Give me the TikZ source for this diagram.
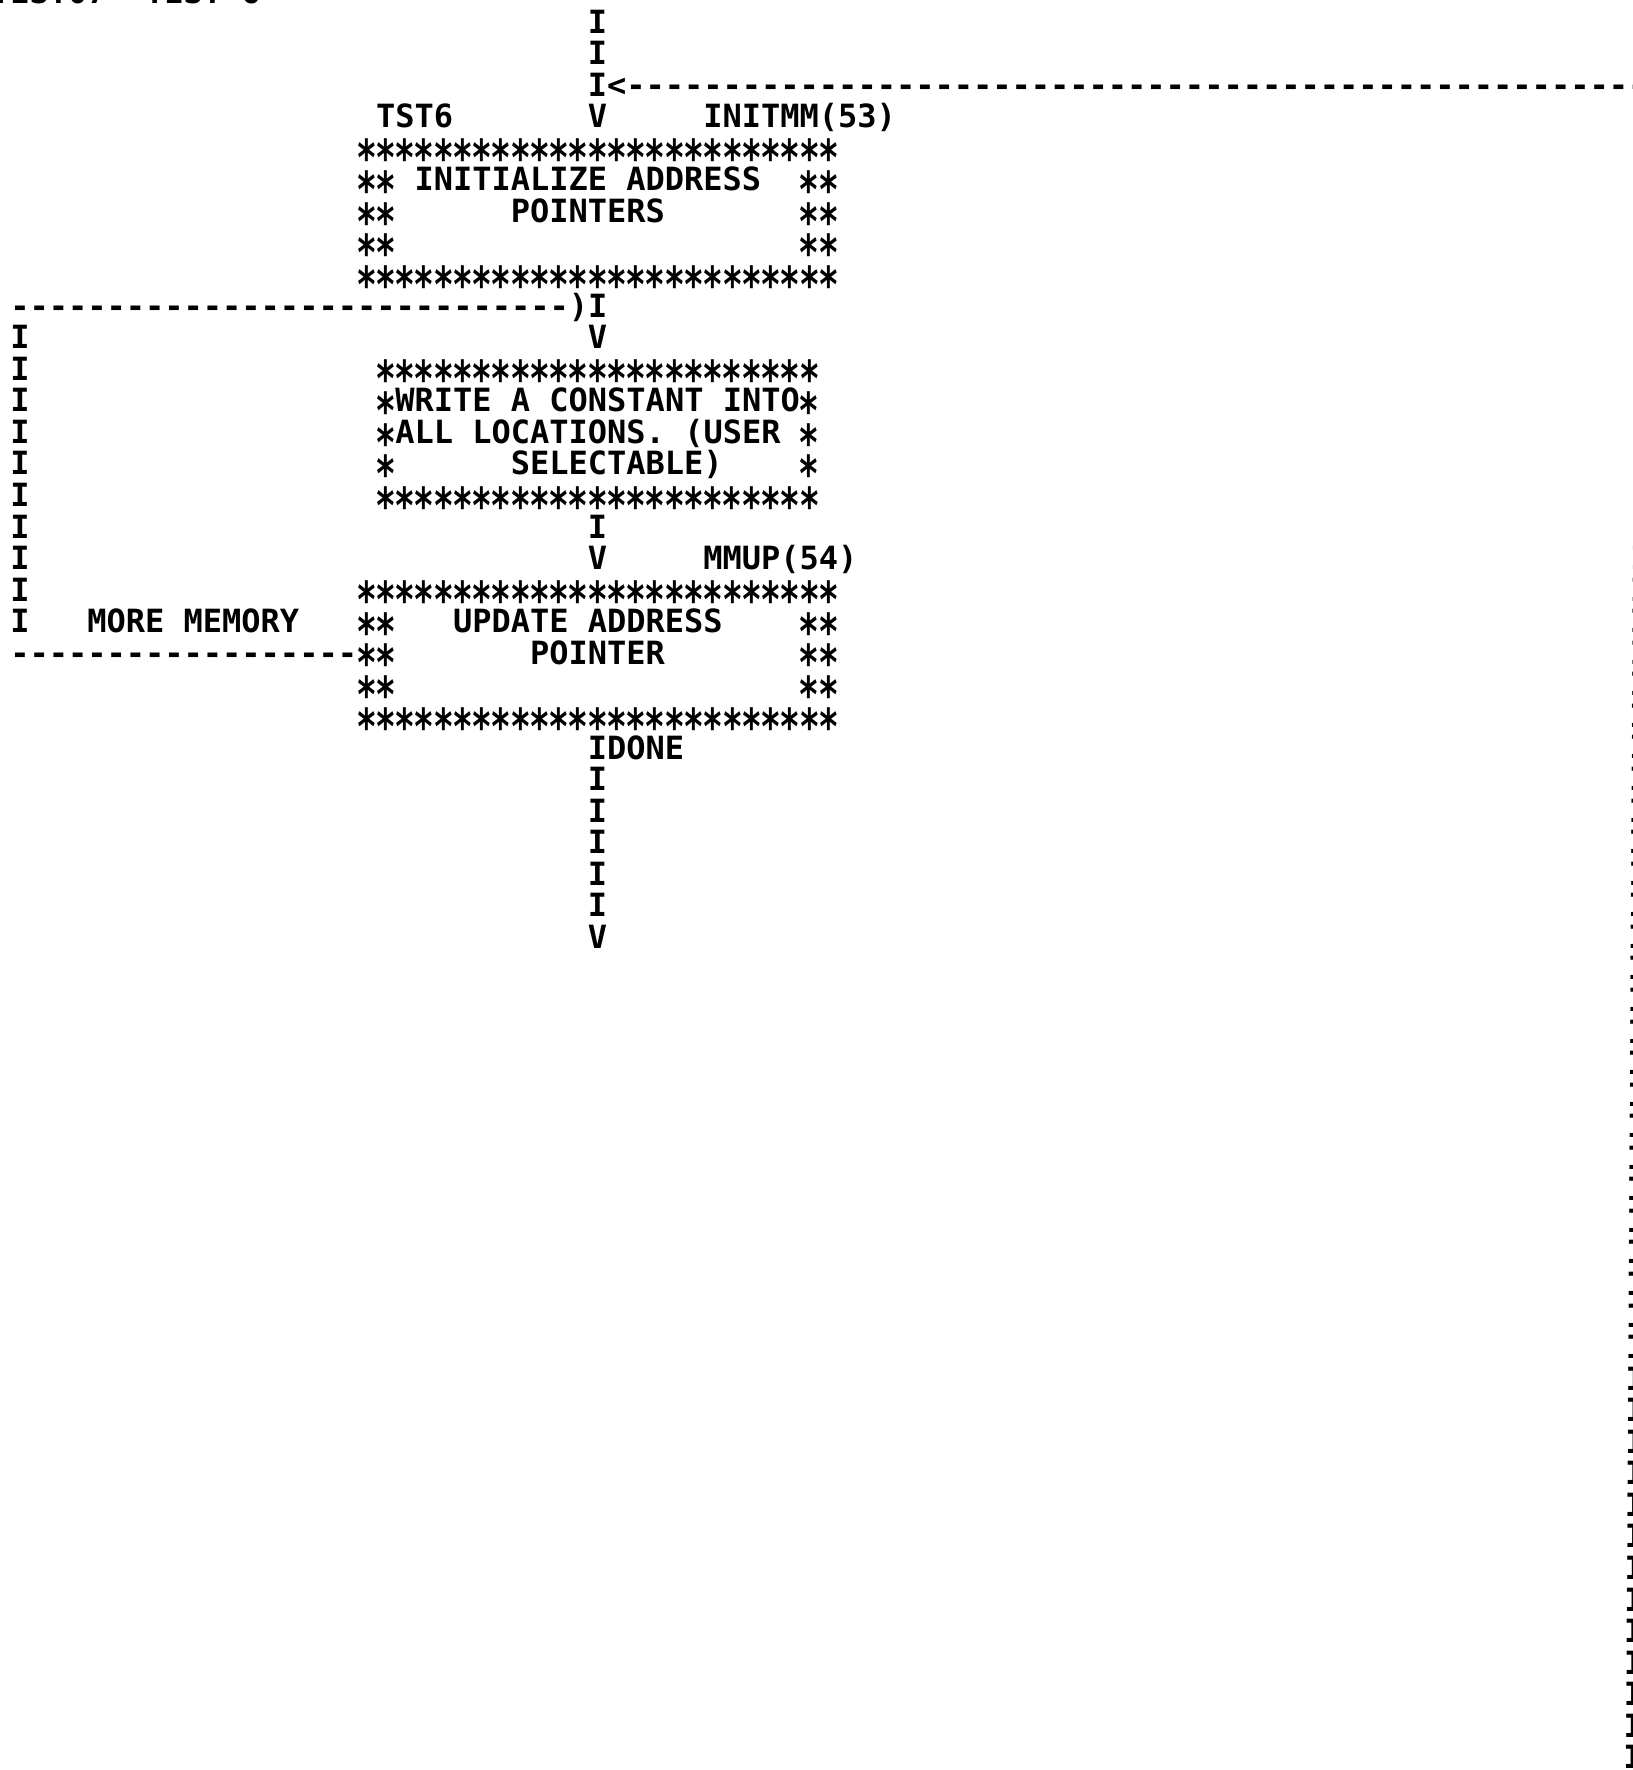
\documentclass[tikz,border=0pt]{standalone}
\usepackage{fontspec}
\usepackage{tikz}
\newfontfamily\plotfont{DejaVu Sans Mono}

% one asterisk of the plotter, one character cell wide
\newcommand{\sk}{\makebox[0.602em]{\smash{\raisebox{-0.52em}{\scalebox{1.08}[1.55]{*}}}}}
\newcommand{\skrow}[1]{\foreach \n in {1,...,#1}{\sk}}

\begin{document}
\begin{tikzpicture}[x=0.5pt,y=0.5pt,yscale=-1,xscale=1,
  ch/.style={anchor=base west,inner sep=0pt,font=\plotfont\fontsize{16pt}{16pt}\selectfont\bfseries\frenchspacing}]
%set diagram left start at 0, and has height of 1770
\useasboundingbox (0,0) rectangle (1632,1770);

%Text Node: page head
\node[ch] (head) at (-9.4,4) {TEST07};
\node[ch] (headb) at (144.6,4) {TEST 6};

%Text Node: entry
\node[ch] (in0) at (587.4,33.1) {I};
\node[ch] (in1) at (587.4,64.7) {I};
\node[ch] (back) at (587.4,96.2) {I<-----------------------------------------------------};
\node[ch] (tst6) at (375.6,127.8) {TST6};
\node[ch] (v0) at (587.4,127.8) {V};
\node[ch] (initmm) at (702.9,127.8) {INITMM(53)};

%Shape: INITIALIZE box
\node[ch] (initT) at (356.4,159.3) {\skrow{25}};
\node[ch] (initL1) at (356.4,190.9) {\sk\sk};
\node[ch] (initA) at (414.1,190.9) {INITIALIZE ADDRESS};
\node[ch] (initR1) at (799.1,190.9) {\sk\sk};
\node[ch] (initL2) at (356.4,222.5) {\sk\sk};
\node[ch] (initB) at (510.4,222.5) {POINTERS};
\node[ch] (initR2) at (799.1,222.5) {\sk\sk};
\node[ch] (initL3) at (356.4,254.0) {\sk\sk};
\node[ch] (initR3) at (799.1,254.0) {\sk\sk};
\node[ch] (initD) at (356.4,285.6) {\skrow{25}};

%Straight Lines: loop return
\node[ch] (loopin) at (9.9,317.1) {-----------------------------)I};
\node[ch] (v1) at (587.4,348.7) {V};
\foreach \r in {10,...,19}
  \node[ch] (loop\r) at (9.9,{33.1+31.56*\r}) {I};

%Shape: WRITE box
\node[ch] (wrT) at (375.6,380.3) {\skrow{23}};
\node[ch] (wrL1) at (375.6,411.8) {\sk};
\node[ch] (wrA) at (394.9,411.8) {WRITE A CONSTANT INTO};
\node[ch] (wrR1) at (799.1,411.8) {\sk};
\node[ch] (wrL2) at (375.6,443.4) {\sk};
\node[ch] (wrB) at (394.9,443.4) {ALL LOCATIONS. (USER};
\node[ch] (wrR2) at (799.1,443.4) {\sk};
\node[ch] (wrL3) at (375.6,474.9) {\sk};
\node[ch] (wrC) at (510.4,474.9) {SELECTABLE)};
\node[ch] (wrR3) at (799.1,474.9) {\sk};
\node[ch] (wrD) at (375.6,506.5) {\skrow{23}};

\node[ch] (in2) at (587.4,538.1) {I};
\node[ch] (v2) at (587.4,569.6) {V};
\node[ch] (mmup) at (702.9,569.6) {MMUP(54)};

%Shape: UPDATE box
\node[ch] (upT) at (356.4,601.2) {\skrow{25}};
\node[ch] (more) at (86.9,632.7) {MORE MEMORY};
\node[ch] (upL1) at (356.4,632.7) {\sk\sk};
\node[ch] (upA) at (452.6,632.7) {UPDATE ADDRESS};
\node[ch] (upR1) at (799.1,632.7) {\sk\sk};
\node[ch] (loopout) at (9.9,664.3) {------------------};
\node[ch] (upL2) at (356.4,664.3) {\sk\sk};
\node[ch] (upB) at (529.6,664.3) {POINTER};
\node[ch] (upR2) at (799.1,664.3) {\sk\sk};
\node[ch] (upL3) at (356.4,695.9) {\sk\sk};
\node[ch] (upR3) at (799.1,695.9) {\sk\sk};
\node[ch] (upD) at (356.4,727.4) {\skrow{25}};

%Straight Lines: exit
\node[ch] (idone) at (587.4,759.0) {IDONE};
\foreach \r in {24,...,28}
  \node[ch] (out\r) at (587.4,{33.1+31.56*\r}) {I};
\node[ch] (v3) at (587.4,948.3) {V};

%Straight Lines: return column at the right margin
\foreach \r in {3,...,55}
  \node[ch,anchor=base] (ret\r) at ({1643-0.18*\r},{33.1+31.56*\r}) {I};

\end{tikzpicture}
\end{document}
